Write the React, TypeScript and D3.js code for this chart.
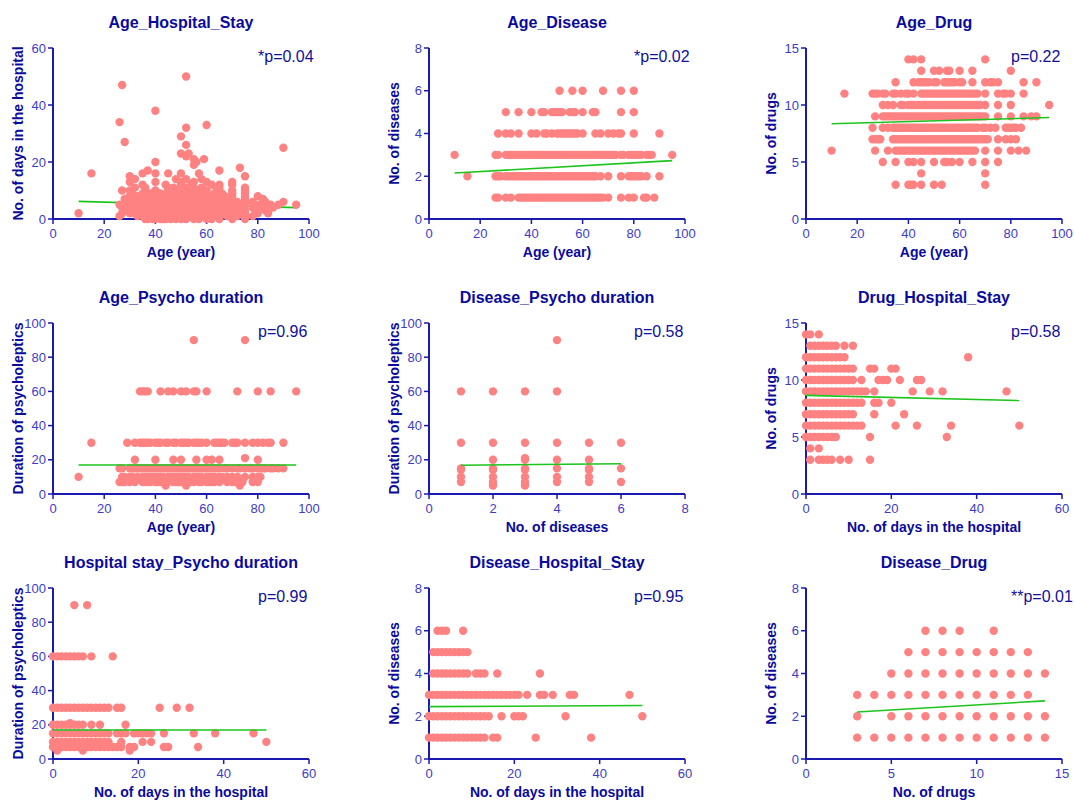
import * as d3 from "d3";

// tick values
const AGE_TICKS = [0, 20, 40, 60, 80, 100];
const DAYS_TICKS = [0, 20, 40, 60];
const DIS_TICKS = [0, 2, 4, 6, 8];
const DRUG_TICKS = [0, 5, 10, 15];
const DUR_TICKS = [0, 20, 40, 60, 80, 100];

type Rows = [number, number[]][]; // [y value, x values at that y]

// Age (x) vs days in hospital (y)
const AGE_HOSPITAL: Rows = [
  [50, [52]], [47, [27]], [38, [40]], [34, [26]], [33, [60]], [32, [52]],
  [29, [50]], [27, [28]], [26, [52]], [25, [90]], [23, [50, 53]], [22, [52]],
  [21, [55, 59]], [20, [40, 56]], [19, [55]], [18, [73]], [17, [37, 65]],
  [16, [15, 35, 40, 45, 50, 57]], [15, [30, 75]], [14, [32, 48, 52, 58]],
  [13, [30, 40, 50, 55, 60, 70]],
  [12, [35, 44, 50, 54, 62, 65, 70]],
  [11, [32, 36, 45, 47, 52, 55, 58, 65, 75]],
  [10, [27, 30, 36, 40, 45, 49, 53, 57, 60, 64, 70, 75]],
  [9, [31, 35, 38, 42, 46, 50, 54, 56, 60, 63, 66, 70, 75]],
  [8, [30, 33, 35, 39, 41, 43, 45, 48, 50, 52, 55, 57, 59, 62, 65, 67, 70, 75, 80]],
  [7, [28, 30, 34, 36, 38, 40, 43, 45, 47, 50, 52, 54, 57, 59, 61, 63, 66, 68, 70, 75, 82]],
  [6, [29, 31, 33, 35, 37, 40, 42, 44, 45, 47, 49, 51, 54, 56, 58, 60, 63, 65, 67, 69, 72, 75, 78, 83, 90]],
  [5, [26, 30, 32, 34, 35, 37, 39, 41, 43, 46, 48, 50, 51, 53, 55, 57, 60, 62, 64, 66, 69, 71, 73, 75, 79, 81, 85, 88, 95]],
  [4, [27, 29, 31, 33, 35, 36, 38, 40, 42, 44, 46, 47, 49, 50, 52, 54, 56, 57, 59, 61, 63, 65, 66, 68, 70, 72, 74, 78, 80, 82, 86]],
  [3, [28, 30, 33, 35, 37, 39, 40, 41, 43, 45, 46, 48, 49, 51, 53, 55, 57, 58, 60, 62, 64, 65, 67, 69, 71, 73, 75, 79, 83]],
  [2, [10, 27, 30, 32, 34, 36, 38, 40, 42, 44, 45, 47, 48, 50, 52, 54, 56, 58, 59, 61, 63, 64, 66, 68, 70, 73, 75, 80, 84]],
  [1, [26, 33, 35, 37, 38, 40, 41, 43, 45, 47, 49, 50, 51, 53, 55, 57, 58, 60, 62, 63, 65, 68, 70, 72, 75, 78]],
  [0, [36, 37, 39, 40, 42, 43, 44, 46, 48, 50, 52, 55, 57, 60, 62, 65, 70, 75]],
];

// Age (x) vs number of diseases (y)
const AGE_DISEASE: Rows = [
  [6, [51, 56, 60, 68, 75, 80]],
  [5, [30, 35, 40, 44, 45, 48, 49, 50, 51, 52, 55, 56, 57, 60, 64, 65, 75, 80]],
  [4, [27, 30, 32, 35, 40, 42, 45, 46, 48, 50, 51, 52, 53, 54, 55, 56, 57, 58, 60, 65, 67, 70, 72, 74, 75, 80, 90]],
  [3, [10, 26, 27, 30, 31, 32, 33, 34, 35, 36, 37, 38, 39, 40, 41, 42, 43, 44, 45, 46, 47, 48, 49, 50, 51, 52, 53, 54, 55, 56, 57, 58, 59, 60, 61, 62, 63, 64, 65, 66, 67, 68, 69, 70, 71, 72, 73, 75, 76, 78, 79, 80, 81, 82, 83, 85, 86, 87, 95]],
  [2, [15, 26, 27, 28, 30, 31, 32, 33, 34, 35, 36, 37, 38, 39, 40, 41, 42, 43, 44, 45, 46, 47, 48, 49, 50, 51, 52, 53, 54, 55, 56, 57, 58, 59, 60, 61, 62, 63, 64, 65, 67, 70, 75, 78, 79, 80, 81, 82, 83, 85, 90]],
  [1, [26, 27, 30, 32, 35, 36, 37, 38, 39, 40, 41, 42, 43, 44, 45, 46, 47, 48, 49, 50, 51, 52, 53, 54, 55, 56, 57, 58, 59, 60, 61, 62, 63, 64, 65, 66, 67, 68, 70, 75, 78, 80, 84, 85, 88]],
];

// Age (x) vs number of drugs (y)
const AGE_DRUG: Rows = [
  [14, [40, 42, 45, 70]],
  [13, [45, 50, 52, 55, 56, 60, 65, 80]],
  [12, [35, 42, 44, 45, 46, 47, 48, 50, 51, 54, 55, 56, 57, 58, 60, 61, 65, 70, 72, 73, 75, 85, 90]],
  [11, [15, 26, 27, 28, 30, 31, 34, 35, 37, 39, 40, 42, 45, 46, 47, 48, 49, 50, 51, 52, 53, 54, 55, 56, 57, 58, 59, 60, 61, 62, 63, 64, 65, 66, 67, 70, 75, 77, 78, 80, 85]],
  [10, [30, 32, 34, 37, 38, 40, 41, 42, 43, 44, 45, 46, 47, 48, 49, 50, 51, 52, 53, 54, 55, 56, 57, 58, 59, 60, 61, 62, 63, 64, 65, 66, 67, 68, 70, 75, 80, 95]],
  [9, [27, 30, 31, 32, 33, 34, 35, 36, 37, 38, 39, 40, 41, 42, 43, 44, 45, 46, 47, 48, 49, 50, 51, 52, 53, 54, 55, 56, 57, 58, 59, 60, 61, 62, 63, 64, 65, 66, 67, 68, 69, 70, 75, 80, 85, 88, 90]],
  [8, [26, 30, 32, 34, 35, 36, 37, 38, 39, 40, 41, 42, 43, 44, 45, 46, 47, 48, 49, 50, 51, 52, 53, 54, 55, 56, 57, 58, 59, 60, 61, 62, 63, 64, 65, 66, 67, 69, 70, 72, 74, 78, 79, 80, 81, 82, 84]],
  [7, [26, 27, 28, 29, 34, 35, 36, 37, 38, 39, 40, 41, 42, 43, 44, 45, 46, 47, 48, 49, 50, 51, 52, 53, 54, 55, 56, 57, 58, 59, 60, 61, 62, 63, 64, 65, 66, 67, 68, 69, 70, 71, 75, 78, 80, 82]],
  [6, [10, 27, 32, 35, 36, 37, 38, 39, 40, 41, 42, 43, 44, 45, 46, 47, 48, 49, 50, 51, 52, 53, 54, 55, 56, 57, 58, 59, 60, 61, 62, 63, 64, 65, 66, 70, 75, 80, 83, 86]],
  [5, [30, 35, 40, 42, 45, 50, 54, 55, 57, 60, 65, 70, 75]],
  [4, [45, 70]],
  [3, [35, 40, 41, 42, 45, 50, 53, 70]],
];

// Age (x) vs duration of psycholeptics (y)
const AGE_PSYCHO: Rows = [
  [90, [55, 75]],
  [60, [34, 35, 36, 37, 42, 45, 47, 50, 52, 55, 56, 60, 72, 80, 85, 95]],
  [30, [15, 29, 32, 34, 35, 36, 37, 38, 40, 41, 42, 44, 45, 47, 48, 50, 51, 52, 53, 55, 56, 57, 58, 60, 63, 64, 65, 66, 67, 70, 71, 72, 75, 78, 80, 82, 84, 85, 90]],
  [21, [75]],
  [20, [32, 40, 47, 50, 56, 60, 62, 65, 80]],
  [15, [26, 27, 30, 31, 32, 33, 34, 35, 36, 37, 38, 39, 40, 41, 42, 43, 44, 45, 46, 47, 48, 49, 50, 51, 52, 53, 54, 55, 56, 57, 58, 59, 60, 61, 62, 63, 64, 65, 67, 68, 70, 72, 73, 75, 77, 78, 80, 81, 82, 83, 85, 86, 88, 90]],
  [10, [10, 27, 28, 30, 31, 33, 35, 36, 37, 38, 39, 40, 41, 42, 43, 45, 46, 47, 48, 49, 50, 51, 52, 53, 55, 56, 57, 58, 60, 61, 62, 63, 65, 66, 68, 70, 72, 75, 78, 80, 81]],
  [7, [26, 27, 28, 30, 32, 35, 36, 37, 38, 40, 41, 42, 43, 44, 45, 47, 48, 49, 50, 51, 53, 54, 55, 57, 58, 60, 61, 62, 63, 65, 68, 70, 71, 74, 78, 80]],
  [5, [44, 52, 73]],
];

// Number of diseases (x) vs duration of psycholeptics (y)
const DISEASE_PSYCHO: Rows = [
  [90, [4]],
  [60, [1, 2, 3, 4]],
  [30, [1, 2, 3, 4, 5, 6]],
  [21, [3]],
  [20, [2, 3, 4, 5]],
  [15, [1, 2, 3, 4, 5, 6]],
  [14, [1, 2, 3, 5]],
  [10, [1, 2, 3, 4, 5]],
  [7, [1, 2, 3, 4, 5, 6]],
  [5, [2, 3]],
];

// Days in hospital (x) vs number of drugs (y)
const DRUG_HOSPITAL: Rows = [
  [14, [0, 1, 3]],
  [13, [1, 2, 3, 4, 5, 6, 7, 9, 11]],
  [12, [0, 1, 2, 3, 4, 5, 6, 7, 8, 9, 38]],
  [11, [0, 1, 2, 3, 4, 5, 6, 7, 8, 9, 10, 11, 15, 16, 20, 21]],
  [10, [0, 1, 2, 3, 4, 5, 6, 7, 8, 9, 10, 11, 13, 17, 18, 19, 22, 26, 27]],
  [9, [0, 1, 2, 3, 4, 5, 6, 7, 8, 9, 10, 11, 12, 13, 14, 16, 25, 29, 32, 47]],
  [8, [0, 1, 2, 3, 4, 5, 6, 7, 8, 9, 10, 11, 12, 13, 16, 17, 20]],
  [7, [0, 1, 2, 3, 4, 5, 6, 7, 8, 9, 10, 11, 16, 23]],
  [6, [0, 1, 2, 3, 4, 5, 6, 7, 8, 9, 10, 11, 12, 13, 21, 26, 34, 50]],
  [5, [0, 1, 2, 3, 4, 5, 6, 7, 15, 33]],
  [4, [1, 3]],
  [3, [1, 3, 4, 5, 6, 8, 10, 15]],
];

// Days in hospital (x) vs duration of psycholeptics (y)
const HOSPITAL_PSYCHO: Rows = [
  [90, [5, 8]],
  [60, [0, 1, 2, 3, 4, 5, 6, 7, 9, 14]],
  [30, [0, 1, 2, 3, 4, 5, 6, 7, 8, 9, 10, 11, 12, 13, 15, 16, 25, 29, 32]],
  [21, [4]],
  [20, [0, 1, 2, 3, 4, 5, 6, 7, 9, 11, 17]],
  [15, [0, 1, 2, 3, 4, 5, 6, 7, 8, 9, 10, 11, 12, 13, 15, 16, 17, 19, 20, 21, 22, 23, 26, 33, 38, 47]],
  [10, [0, 1, 2, 3, 4, 5, 6, 7, 8, 9, 10, 11, 12, 13, 16, 21, 23, 50]],
  [7, [0, 1, 2, 3, 4, 5, 6, 7, 8, 9, 10, 11, 12, 13, 14, 15, 16, 18, 19, 26, 27, 34]],
  [5, [1, 7, 18]],
];

// Days in hospital (x) vs number of diseases (y)
const DISEASE_HOSPITAL: Rows = [
  [6, [2, 3, 4, 8]],
  [5, [1, 2, 3, 4, 5, 6, 7, 8, 9]],
  [4, [1, 2, 3, 4, 5, 6, 7, 8, 9, 11, 12, 13, 16, 26]],
  [3, [0, 1, 2, 3, 4, 5, 6, 7, 8, 9, 10, 11, 12, 13, 14, 15, 16, 17, 18, 19, 20, 21, 23, 26, 27, 29, 33, 34, 47]],
  [2, [0, 1, 2, 3, 4, 5, 6, 7, 8, 9, 10, 11, 12, 13, 14, 17, 20, 21, 22, 32, 50]],
  [1, [0, 1, 2, 3, 4, 5, 6, 7, 8, 9, 10, 11, 12, 13, 15, 16, 25, 38]],
];

// Number of drugs (x) vs number of diseases (y)
const DISEASE_DRUG: Rows = [
  [6, [7, 8, 9, 11]],
  [5, [6, 7, 8, 9, 10, 11, 12, 13]],
  [4, [5, 6, 7, 8, 9, 10, 11, 12, 13, 14]],
  [3, [3, 4, 5, 6, 7, 8, 9, 10, 11, 12, 13]],
  [2, [3, 5, 6, 7, 8, 9, 10, 11, 12, 13, 14]],
  [1, [3, 4, 5, 6, 7, 8, 9, 10, 11, 12, 13, 14]],
];

// regression line ends: [x1, y1, x2, y2]
const FITS: [number, number, number, number][] = [
  [10, 6.2, 95, 4.0],
  [10, 2.15, 95, 2.73],
  [10, 8.35, 95, 8.9],
  [10, 17, 95, 17],
  [1, 16.8, 6, 17.7],
  [0, 8.65, 50, 8.2],
  [0, 17, 50, 17],
  [0, 2.45, 50, 2.5],
  [3, 2.2, 14, 2.72],
];

const TITLES = [
  "Age_Hospital_Stay", "Age_Disease", "Age_Drug",
  "Age_Psycho duration", "Disease_Psycho duration", "Drug_Hospital_Stay",
  "Hospital stay_Psycho duration", "Disease_Hospital_Stay", "Disease_Drug",
];
const P_TEXT = ["*p=0.04", "*p=0.02", "p=0.22", "p=0.96", "p=0.58", "p=0.58", "p=0.99", "p=0.95", "**p=0.01"];

const X_LABELS = [
  "Age (year)", "Age (year)", "Age (year)",
  "Age (year)", "No. of diseases", "No. of days in the hospital",
  "No. of days in the hospital", "No. of days in the hospital", "No. of drugs",
];
const Y_LABELS = [
  "No. of days in the hospital", "No. of diseases", "No. of drugs",
  "Duration of psycholeptics", "Duration of psycholeptics", "No. of drugs",
  "Duration of psycholeptics", "No. of diseases", "No. of diseases",
];

const PANELS = [
  { rows: AGE_HOSPITAL, xt: AGE_TICKS, yt: DAYS_TICKS, lineOnTop: false },
  { rows: AGE_DISEASE, xt: AGE_TICKS, yt: DIS_TICKS, lineOnTop: true },
  { rows: AGE_DRUG, xt: AGE_TICKS, yt: DRUG_TICKS, lineOnTop: true },
  { rows: AGE_PSYCHO, xt: AGE_TICKS, yt: DUR_TICKS, lineOnTop: true },
  { rows: DISEASE_PSYCHO, xt: DIS_TICKS, yt: DUR_TICKS, lineOnTop: true },
  { rows: DRUG_HOSPITAL, xt: DAYS_TICKS, yt: DRUG_TICKS, lineOnTop: true },
  { rows: HOSPITAL_PSYCHO, xt: DAYS_TICKS, yt: DUR_TICKS, lineOnTop: true },
  { rows: DISEASE_HOSPITAL, xt: DAYS_TICKS, yt: DIS_TICKS, lineOnTop: true },
  { rows: DISEASE_DRUG, xt: DRUG_TICKS, yt: DIS_TICKS, lineOnTop: true },
];

const COL_X = [53, 429, 806];
const ROW_Y = [48, 323, 588];
const PW = 256;
const PH = 171;

const FONT = "'Liberation Sans', Arial, sans-serif";
const DARK = "#0a0a9c";
const TICK_TXT = "#3c3cc4";
const AXIS = "#1a1ab0";
const DOT = "#ff8282";
const LINE = "#1cc41c";

function Panel({ i }: { i: number }) {
  const spec = PANELS[i];
  const left = COL_X[i % 3];
  const top = ROW_Y[Math.floor(i / 3)];
  const bottom = top + PH;
  const x = d3.scaleLinear().domain(d3.extent(spec.xt) as [number, number]).range([left, left + PW]);
  const y = d3.scaleLinear().domain(d3.extent(spec.yt) as [number, number]).range([bottom, top]);
  const pts = spec.rows.flatMap(([yv, xs]) => xs.map((xv) => [xv, yv] as [number, number]));
  const f = FITS[i];
  const line = d3.line<[number, number]>().x((d) => x(d[0])).y((d) => y(d[1]));
  const fitPath = (
    <path d={line([[f[0], f[1]], [f[2], f[3]]]) ?? ""} stroke={LINE} strokeWidth={1.6} fill="none" />
  );

  return (
    <g>
      <text x={left + PW / 2} y={top - 20} textAnchor="middle" fontSize={16} fontWeight="bold" fill={DARK}>
        {TITLES[i]}
      </text>
      {/* axes */}
      <line x1={left} x2={left} y1={top} y2={bottom + 1} stroke={AXIS} strokeWidth={2} />
      <line x1={left - 1} x2={left + PW} y1={bottom} y2={bottom} stroke={AXIS} strokeWidth={2} />
      {spec.yt.map((t) => (
        <g key={"y" + t}>
          <line x1={left - 5} x2={left} y1={y(t)} y2={y(t)} stroke={AXIS} strokeWidth={1.5} />
          <text x={left - 7} y={y(t)} dy="0.35em" textAnchor="end" fontSize={13} fill={TICK_TXT}>
            {t}
          </text>
        </g>
      ))}
      {spec.xt.map((t) => (
        <g key={"x" + t}>
          <line x1={x(t)} x2={x(t)} y1={bottom} y2={bottom + 5} stroke={AXIS} strokeWidth={1.5} />
          <text x={x(t)} y={bottom + 19} textAnchor="middle" fontSize={13} fill={TICK_TXT}>
            {t}
          </text>
        </g>
      ))}
      <text x={left + PW / 2} y={bottom + 38} textAnchor="middle" fontSize={14} fontWeight="bold" fill={DARK}>
        {X_LABELS[i]}
      </text>
      <text
        transform={`translate(${left - 35},${top + PH / 2}) rotate(-90)`}
        dy="0.35em"
        textAnchor="middle"
        fontSize={14}
        fontWeight="bold"
        fill={DARK}
      >
        {Y_LABELS[i]}
      </text>
      {!spec.lineOnTop && fitPath}
      {pts.map((d, k) => (
        <circle key={k} cx={x(d[0])} cy={y(d[1])} r={4.2} fill={DOT} />
      ))}
      {spec.lineOnTop && fitPath}
      <text x={left + 205} y={top + 14} fontSize={16} fill="#10109a">
        {P_TEXT[i]}
      </text>
    </g>
  );
}

export default function App() {
  return (
    <svg
      width={1074}
      height={800}
      style={{ position: "absolute", left: 0, top: 0, background: "#fff", fontFamily: FONT }}
    >
      {PANELS.map((_, i) => (
        <Panel key={i} i={i} />
      ))}
    </svg>
  );
}
